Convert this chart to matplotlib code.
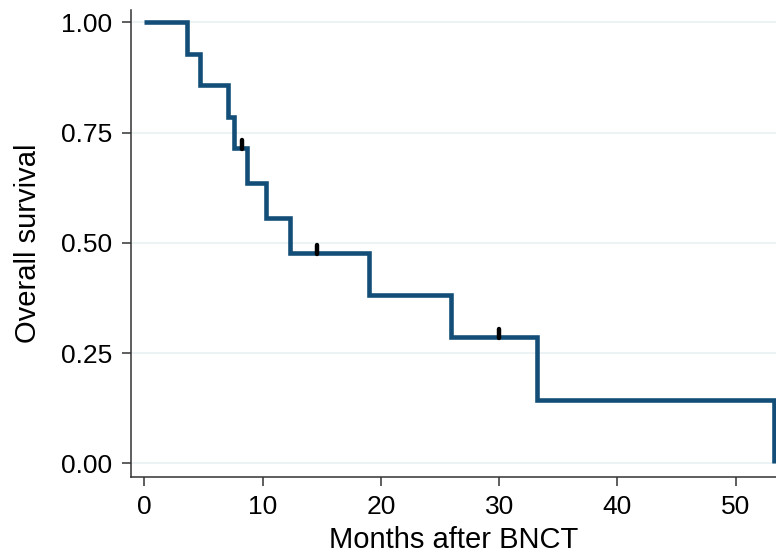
import matplotlib
matplotlib.use("Agg")
import matplotlib.pyplot as plt
from matplotlib.markers import MarkerStyle
from matplotlib.path import Path

# Kaplan-Meier estimate
event_times = [0, 3.6, 4.75, 7.05, 7.6, 8.7, 10.3, 12.3, 19.0, 25.95, 33.2, 53.2]
survival = [1.000, 0.929, 0.857, 0.786, 0.714, 0.635, 0.556, 0.476, 0.381, 0.286, 0.143, 0.000]

censor_times = [8.3, 14.6, 29.95]
censor_surv = [0.714, 0.476, 0.286]

x_ticks = [0, 10, 20, 30, 40, 50]
y_ticks = [0.00, 0.25, 0.50, 0.75, 1.00]
y_ticklabels = ["0.00", "0.25", "0.50", "0.75", "1.00"]

LINE_COLOR = "#134e78"
GRID_COLOR = "#e6f0f2"

plt.rcParams["font.family"] = ["Liberation Sans", "DejaVu Sans"]

fig = plt.figure(figsize=(7.76, 5.53), dpi=100)
ax = fig.add_axes([0.1692, 0.138, 0.8308, 0.8439])

for y in y_ticks:
    ax.axhline(y, color=GRID_COLOR, lw=1.1, zorder=0)

ax.plot(event_times, survival, drawstyle="steps-post", color=LINE_COLOR,
        lw=3.3, solid_joinstyle="miter", solid_capstyle="butt", zorder=3)

# censoring ticks sit on top of the curve
tick_path = Path([(0, -0.1), (0, 1.0)], [Path.MOVETO, Path.LINETO])
tick_marker = MarkerStyle(tick_path, capstyle="round")
ax.plot(censor_times, censor_surv, linestyle="none", marker=tick_marker,
        markersize=12, markeredgewidth=3.2, color="black", zorder=4)

ax.set_xlim(-1.09, 53.4)
ax.set_ylim(-0.0304, 1.028)
ax.set_xticks(x_ticks)
ax.set_yticks(y_ticks)
ax.set_yticklabels(y_ticklabels)

ax.spines["top"].set_visible(False)
ax.spines["right"].set_visible(False)
for s in ("left", "bottom"):
    ax.spines[s].set_color("#333333")
    ax.spines[s].set_linewidth(1.1)

ax.tick_params(axis="both", direction="out", length=6.5, width=1.1,
               color="#333333", labelsize=19, pad=7)

ax.set_xlabel("Months after BNCT", fontsize=21, labelpad=5)
ax.set_ylabel("Overall survival", fontsize=21, labelpad=14)

fig.savefig("out.png", dpi=100)
